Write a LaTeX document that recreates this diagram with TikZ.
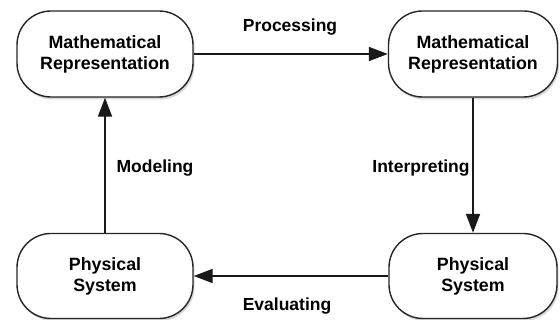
\documentclass[tikz,border=0pt]{standalone}
\usepackage{fontspec}
\setmainfont{Liberation Sans}
\usetikzlibrary{arrows.meta,shadows}
\begin{document}
\begin{tikzpicture}[x=1pt,y=-1pt,
  box/.style={draw=black!85, line width=1.4pt, fill=white, rounded corners=34pt,
    minimum height=86pt, align=center, inner sep=0pt,
    font=\fontsize{17.8}{21}\selectfont\bfseries,
    drop shadow={opacity=0.3, shadow xshift=1.5pt, shadow yshift=-2.5pt}},
  conn/.style={line width=1.8pt, draw=black!90, -{Triangle[length=19pt,width=14pt]}},
  lbl/.style={font=\fontsize{17.5}{21}\selectfont\bfseries, inner sep=0pt}]
\useasboundingbox (0,0) rectangle (560,320);
\node[box, minimum width=176pt] (tl) at (105,54) {Mathematical\\Representation};
\node[box, minimum width=169pt] (tr) at (473,54) {Mathematical\\Representation};
\node[box, minimum width=176pt, minimum height=85pt] (bl) at (105,276) {Physical\\System};
\node[box, minimum width=168pt, minimum height=85pt] (br) at (473,276) {Physical\\System};
\draw[conn] (tl.east) -- (tr.west);
\draw[conn] (tr.south) -- (br.north);
\draw[conn] (br.west) -- (bl.east);
\draw[conn] (bl.north) -- (tl.south);
\node[lbl] (p) at (290,27) {Processing};
\node[lbl] (m) at (155,168) {Modeling};
\node[lbl] (i) at (421,168) {Interpreting};
\node[lbl] (e) at (287,306) {Evaluating};
\end{tikzpicture}
\end{document}
